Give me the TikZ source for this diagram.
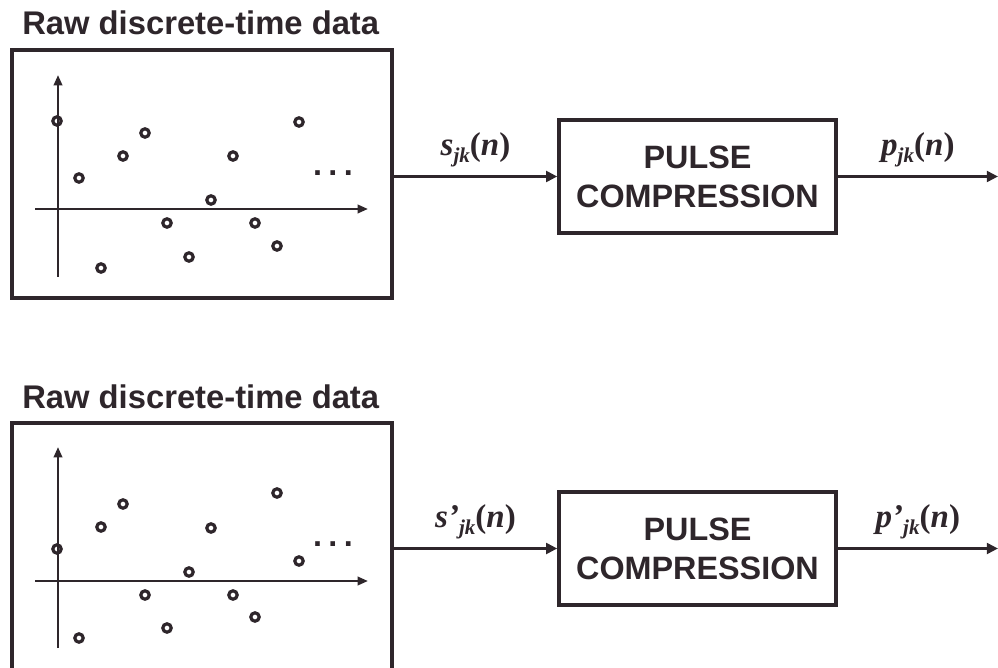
\documentclass[tikz,border=0pt]{standalone}
\usepackage{fontspec}
\setmainfont{Liberation Serif}
\setsansfont{Liberation Sans}
\usetikzlibrary{arrows.meta}
\definecolor{inkcol}{HTML}{2E262B}
\newcommand{\sigl}[2]{\textbf{\textit{#1}}\raisebox{-0.17cm}{\fontsize{15}{17}\selectfont\textbf{\textit{#2}}}\textbf{(\textit{n})}}
\tikzset{
  databox/.style={rectangle, draw=inkcol, line width=0.085cm, minimum width=9.5cm, minimum height=6.2cm, inner sep=0pt},
  pcbox/.style={rectangle, draw=inkcol, line width=0.085cm, minimum width=6.925cm, minimum height=2.825cm, inner sep=0pt, align=center, text=inkcol, font=\fontsize{23}{27.6}\selectfont\sffamily\bfseries},
  heading/.style={anchor=base west, inner sep=0pt, text=inkcol, font=\fontsize{23.3}{27}\selectfont\sffamily\bfseries},
  sample/.style={circle, draw=inkcol, line width=0.08cm, minimum size=0.21cm, inner sep=0pt},
  plotaxis/.style={draw=inkcol, line width=0.06cm, -{Triangle[length=0.26cm, width=0.21cm]}},
  conn/.style={draw=inkcol, line width=0.085cm, -{Triangle[length=0.28cm, width=0.27cm]}},
  siglabel/.style={midway, above=0.2cm, inner sep=0pt, text=inkcol, font=\fontsize{23.5}{26}\selectfont},
  ellip/.style={anchor=base, inner sep=0pt, text=inkcol, font=\fontsize{23}{27}\selectfont\sffamily\bfseries},
}

\begin{document}
\begin{tikzpicture}[x=0.025cm, y=-0.025cm]
  \useasboundingbox (0,0) rectangle (998,668);
  \clip (0,0) rectangle (998,668);
  % upper channel
  \node[heading] (head1) at (22,35) {Raw discrete-time data};
  \node[databox] (raw1) at (202,174) {};
  \draw[plotaxis] (58,277) -- (58,75);
  \draw[plotaxis] (35,209) -- (368,209);
  \foreach \n/\y in {0/121, 1/178, 2/268, 3/156, 4/133, 5/223, 6/257, 7/200, 8/156, 9/223, 10/246, 11/122}
    \node[sample] (u\n) at (57+22*\n, \y) {};
  \node[ellip] (dots1) at (333,176) {.\kern0.2em.\kern0.2em.};
  \node[pcbox] (pc1) at (697.5,176.5) {PULSE\\COMPRESSION};
  \coordinate (out1) at (998,176.5);
  \draw[conn] (pc1.west -| raw1.east) -- node[siglabel]{\sigl{s}{jk}} (pc1.west);
  \draw[conn] (pc1.east) -- node[siglabel]{\sigl{p}{jk}} (out1);
  % lower channel
  \node[heading] (head2) at (22,408) {Raw discrete-time data};
  \node[databox] (raw2) at (202,547) {};
  \draw[plotaxis] (58,648) -- (58,447);
  \draw[plotaxis] (35,581) -- (368,581);
  \foreach \n/\y in {0/549, 1/638, 2/527, 3/504, 4/595, 5/628, 6/572, 7/528, 8/595, 9/617, 10/493, 11/561}
    \node[sample] (v\n) at (57+22*\n, \y) {};
  \node[ellip] (dots2) at (333,546) {.\kern0.2em.\kern0.2em.};
  \node[pcbox] (pc2) at (697.5,548.5) {PULSE\\COMPRESSION};
  \coordinate (out2) at (998,548.5);
  \draw[conn] (pc2.west -| raw2.east) -- node[siglabel]{\sigl{s'}{jk}} (pc2.west);
  \draw[conn] (pc2.east) -- node[siglabel]{\sigl{p'}{jk}} (out2);
\end{tikzpicture}
\end{document}
